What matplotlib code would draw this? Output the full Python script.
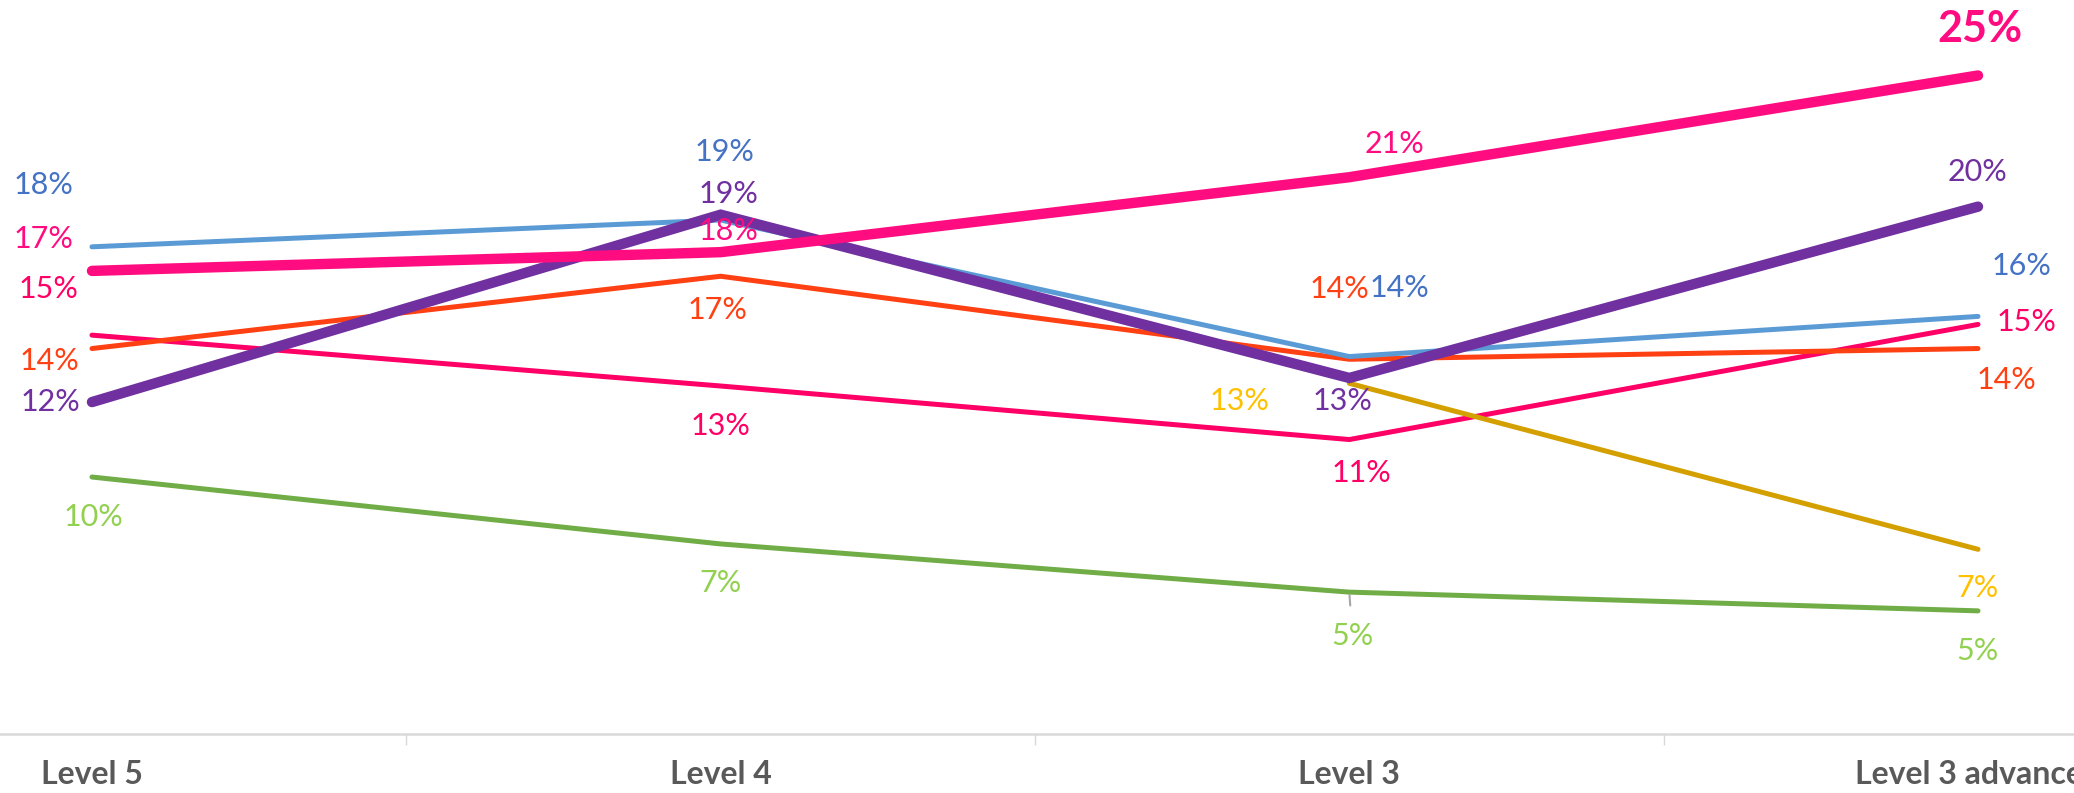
import matplotlib
matplotlib.use("Agg")
import matplotlib.pyplot as plt
import numpy as np

# categories on the x axis
categories = ["Level 5", "Level 4", "Level 3", "Level 3 advanced"]

# series values (%)
pink_thick = [17.3, 18.0, 20.8, 24.6]
purple = [12.4, 19.4, 13.3, 19.7]
blue = [18.2, 19.2, 14.1, 15.6]
orange = [14.4, 17.1, 14.0, 14.4]
pink_thin = [14.9, 13.0, 11.0, 15.3]
green = [9.6, 7.1, 5.3, 4.6]
gold = [np.nan, np.nan, 13.1, 6.9]

# drawing order: bottom to top
series = [
    # values, line colour, label colour, width, label offsets (px)
    (green, "#70AD47", "#92D050", 3.6, [(1, -40), (0, -39), (3, -44), (-1, -40)]),
    (pink_thin, "#FF0066", "#FF0066", 3.6, [(-43, 46), (0, -40), (12, -33), (48, 2)]),
    (gold, "#D4A000", "#FFC000", 3.6, [None, None, (-110, -18), (-1, -39)]),
    (orange, "#FF4013", "#FF4013", 3.6, [(-43, -12), (-3, -34), (-10, 70), (28, -31)]),
    (blue, "#5B9BD5", "#4472C4", 3.6, [(-48, 62), (4, 68), (50, 69), (43, 50)]),
    (purple, "#7030A0", "#7030A0", 7.5, [(-42, 0), (8, 21), (-7, -23), (-1, 35)]),
    (pink_thick, "#FF0D80", "#FF0D80", 7.5, [(-48, 32), (8, 21), (45, 33), (2, 46)]),
]

fig = plt.figure(figsize=(20.74, 7.93), dpi=100)
ax = fig.add_axes([0, 0.0744, 1, 0.9256])
x = np.arange(len(categories))

for vals, color, lcolor, lw, offsets in series:
    ax.plot(x, vals, color=color, lw=lw, solid_capstyle="round",
            solid_joinstyle="miter")
    for xi, v, off in zip(x, vals, offsets):
        if off is None or np.isnan(v):
            continue
        bold = vals is pink_thick and xi == len(categories) - 1
        kw = {}
        if vals is green and xi == 2:
            kw["arrowprops"] = dict(arrowstyle="-", color="#A6A6A6", lw=1.5,
                                    shrinkA=10, shrinkB=2)
        ax.annotate(f"{v:.0f}%", (xi, v), xytext=off, textcoords="offset pixels",
                    ha="center", va="center", color=lcolor,
                    fontsize=31 if bold else 22,
                    fontweight="bold" if bold else "normal",
                    family="Lato", **kw)

ax.set_xlim(-0.1463, 3.1527)
ax.set_ylim(0, 27.42)
ax.set_yticks([])
for s in ["top", "left", "right"]:
    ax.spines[s].set_visible(False)
ax.spines["bottom"].set_color("#D9D9D9")
ax.spines["bottom"].set_linewidth(1.8)

ax.set_xticks(x)
ax.set_xticklabels(categories, fontsize=23, fontweight="bold", color="#595959",
                   family="Lato")
ax.tick_params(axis="x", which="major", length=0, pad=19)
ax.set_xticks([0.5, 1.5, 2.5], minor=True)
ax.tick_params(axis="x", which="minor", length=8, width=1, color="#D9D9D9")

fig.savefig("out.png", dpi=100)
